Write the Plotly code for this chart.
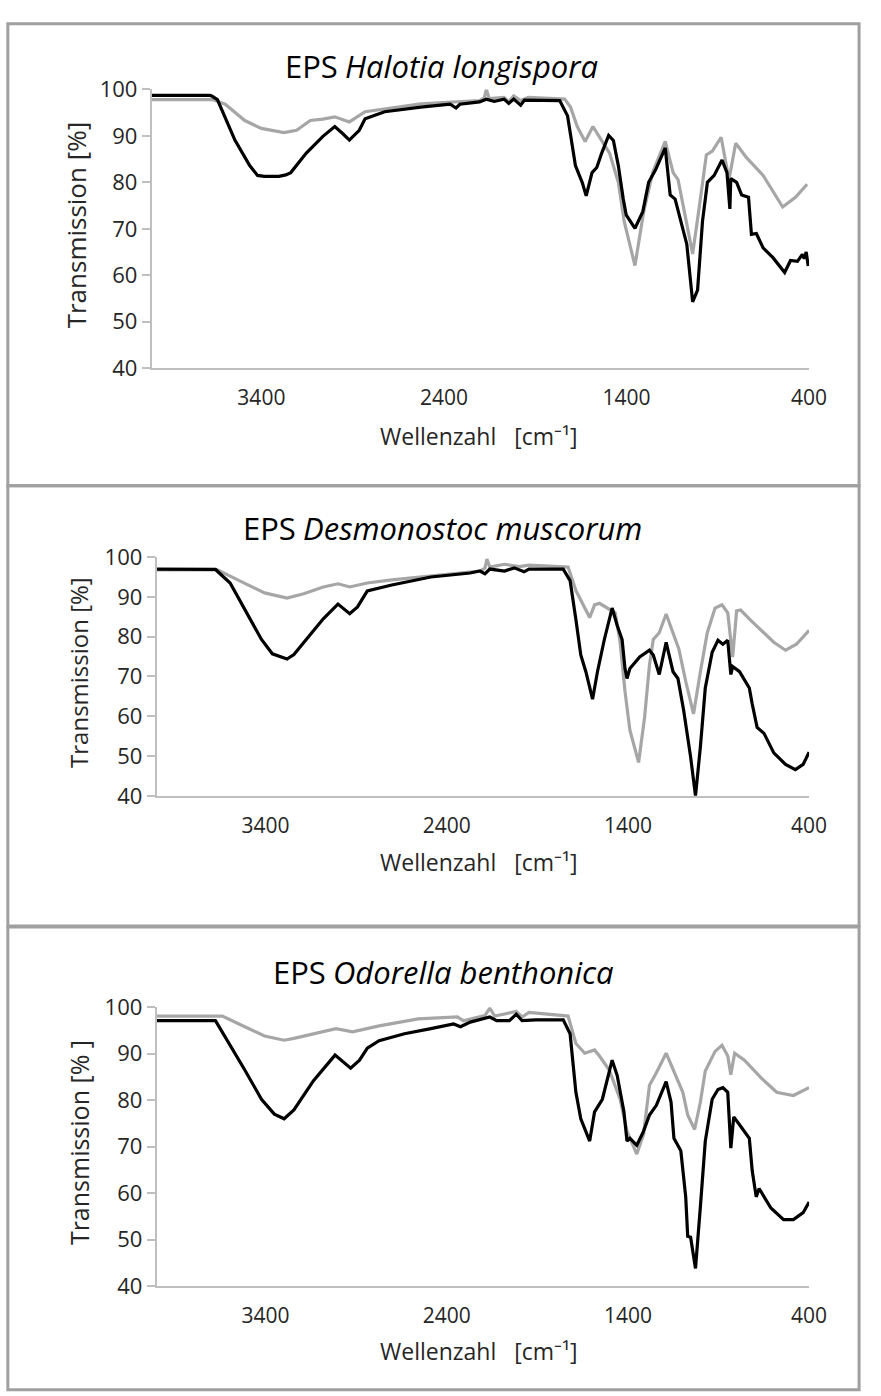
import plotly.graph_objects as go

W, H = 881, 1396

# ---------------- data (wavenumber cm-1, transmission %) ----------------
halotia_black_wn = [4000, 3679, 3668, 3641, 3545, 3464, 3421, 3384, 3304, 3266, 3239, 3154, 3063, 2998, 2955, 2918, 2864, 2832, 2725, 2527, 2366, 2334, 2313, 2205, 2168, 2125, 2071, 2045, 2018, 1980, 1959, 1884, 1766, 1723, 1680, 1643, 1621, 1589, 1563, 1536, 1498, 1472, 1445, 1418, 1402, 1354, 1311, 1279, 1241, 1188, 1161, 1134, 1097, 1070, 1038, 1011, 984, 957, 920, 877, 850, 834, 829, 797, 770, 732, 716, 689, 652, 598, 534, 502, 464, 437, 427, 416, 405]
halotia_black_t = [98.7, 98.7, 98.5, 97.8, 89.1, 83.6, 81.5, 81.3, 81.3, 81.6, 82.1, 86.3, 89.9, 92.0, 90.5, 89.1, 91.2, 93.7, 95.2, 96.2, 96.8, 96.0, 96.8, 97.3, 97.9, 97.4, 97.9, 97.0, 97.9, 96.6, 97.7, 97.7, 97.6, 94.3, 83.6, 80.0, 77.1, 82.1, 83.2, 86.3, 90.1, 89.0, 83.6, 76.4, 73.0, 70.1, 73.7, 80.0, 82.7, 87.4, 77.3, 76.4, 70.9, 66.7, 54.3, 56.8, 71.6, 80.0, 81.5, 84.8, 82.1, 74.3, 80.8, 80.0, 77.3, 76.8, 68.8, 69.0, 65.9, 63.8, 60.6, 63.2, 63.0, 64.5, 63.6, 65.0, 62.0]

halotia_gray_wn = [4000, 3668, 3598, 3491, 3400, 3277, 3207, 3132, 3063, 2998, 2918, 2832, 2527, 2313, 2205, 2179, 2168, 2152, 2071, 2045, 2018, 1980, 1938, 1739, 1707, 1670, 1627, 1584, 1536, 1493, 1445, 1413, 1354, 1306, 1257, 1188, 1145, 1118, 1080, 1038, 1000, 963, 930, 882, 839, 802, 743, 652, 545, 475, 411]
halotia_gray_t = [97.8, 97.8, 96.8, 93.3, 91.6, 90.7, 91.2, 93.3, 93.6, 94.1, 93.0, 95.2, 96.9, 97.3, 97.6, 98.2, 100.0, 98.0, 98.3, 97.3, 98.6, 97.6, 98.3, 97.9, 96.2, 92.0, 88.8, 92.0, 89.1, 86.3, 80.0, 71.6, 62.1, 73.7, 82.1, 88.8, 82.1, 80.6, 73.0, 64.6, 75.2, 85.9, 86.7, 89.7, 80.6, 88.4, 85.3, 81.5, 74.7, 76.8, 79.6]

desmo_black_wn = [4000, 3676, 3595, 3514, 3422, 3362, 3281, 3243, 3162, 3081, 3000, 2935, 2892, 2838, 2703, 2487, 2270, 2216, 2189, 2162, 2081, 2027, 1973, 1946, 1757, 1719, 1687, 1660, 1632, 1595, 1568, 1530, 1487, 1459, 1432, 1416, 1405, 1389, 1335, 1281, 1260, 1227, 1189, 1151, 1124, 1092, 1054, 1027, 1000, 973, 935, 903, 876, 849, 832, 822, 784, 730, 714, 687, 649, 595, 530, 476, 433, 400]
desmo_black_t = [97.0, 96.9, 93.5, 86.7, 79.3, 75.7, 74.4, 75.5, 80.0, 84.5, 88.2, 85.8, 87.5, 91.5, 93.0, 95.0, 96.0, 96.5, 95.8, 97.0, 96.5, 97.3, 96.3, 97.0, 97.0, 94.1, 84.3, 75.4, 71.2, 64.3, 71.2, 79.3, 87.2, 82.8, 79.3, 72.0, 69.5, 72.0, 74.9, 76.6, 75.4, 70.5, 78.6, 71.2, 69.5, 61.4, 49.8, 40.0, 52.3, 67.1, 76.1, 79.1, 78.1, 79.1, 70.5, 72.5, 71.2, 67.1, 63.1, 57.2, 55.7, 50.8, 47.9, 46.6, 47.9, 51.0]

desmo_gray_wn = [4000, 3665, 3514, 3405, 3281, 3189, 3081, 3000, 2935, 2838, 2703, 2432, 2216, 2189, 2178, 2162, 2081, 2000, 1946, 1730, 1687, 1611, 1584, 1557, 1514, 1470, 1443, 1416, 1389, 1341, 1308, 1281, 1260, 1227, 1189, 1151, 1119, 1081, 1038, 1000, 962, 919, 881, 849, 822, 800, 778, 719, 665, 595, 530, 470, 400]
desmo_gray_t = [96.8, 96.8, 93.4, 91.0, 89.7, 90.8, 92.5, 93.3, 92.5, 93.5, 94.3, 95.5, 96.5, 97.2, 99.5, 97.5, 98.2, 97.6, 98.0, 97.5, 91.6, 84.8, 88.0, 88.4, 87.2, 86.0, 78.6, 66.3, 56.5, 48.4, 59.7, 72.9, 79.3, 81.0, 85.7, 81.0, 76.9, 68.8, 60.6, 71.2, 81.0, 87.2, 88.0, 86.0, 74.9, 86.5, 86.7, 84.0, 81.6, 78.6, 76.6, 78.1, 81.6]

odor_black_wn = [4000, 3676, 3514, 3422, 3351, 3297, 3243, 3135, 3016, 2930, 2881, 2838, 2773, 2633, 2487, 2362, 2324, 2270, 2162, 2124, 2054, 2016, 1984, 1908, 1757, 1719, 1687, 1660, 1611, 1584, 1541, 1514, 1487, 1459, 1422, 1405, 1389, 1351, 1314, 1281, 1243, 1189, 1162, 1146, 1108, 1081, 1070, 1054, 1027, 1000, 973, 935, 903, 876, 849, 832, 816, 784, 730, 714, 692, 676, 649, 611, 541, 487, 433, 400]
odor_black_t = [97.1, 97.1, 86.5, 80.2, 77.0, 76.0, 77.9, 84.2, 89.7, 86.9, 88.6, 91.2, 92.8, 94.3, 95.4, 96.4, 95.8, 96.8, 97.9, 97.1, 97.1, 98.5, 97.1, 97.3, 97.3, 94.3, 81.7, 76.0, 71.2, 77.5, 80.2, 84.4, 88.6, 85.3, 77.5, 71.2, 71.8, 70.3, 73.3, 76.8, 78.9, 84.0, 79.6, 71.8, 69.1, 59.2, 50.7, 50.5, 43.8, 57.1, 71.2, 80.2, 82.3, 82.7, 81.7, 69.7, 76.4, 74.7, 71.8, 64.8, 59.2, 61.0, 59.2, 56.8, 54.3, 54.3, 55.8, 58.1]

odor_gray_wn = [4000, 3638, 3514, 3405, 3297, 3243, 3011, 2919, 2773, 2557, 2341, 2308, 2189, 2162, 2135, 2016, 1984, 1946, 1730, 1687, 1638, 1584, 1557, 1503, 1443, 1405, 1351, 1314, 1281, 1243, 1189, 1151, 1097, 1070, 1032, 1000, 973, 919, 881, 849, 832, 811, 757, 665, 579, 487, 400]
odor_gray_t = [98.1, 98.1, 95.8, 93.8, 92.9, 93.3, 95.4, 94.7, 96.0, 97.5, 97.9, 97.1, 98.2, 99.8, 98.1, 99.1, 97.9, 98.9, 98.1, 92.2, 90.1, 90.8, 89.5, 86.5, 80.2, 73.3, 68.4, 72.6, 83.2, 85.9, 90.1, 86.5, 81.7, 76.8, 73.7, 79.6, 86.3, 90.5, 91.8, 89.5, 85.5, 90.1, 88.6, 84.8, 81.7, 81.0, 82.7]

title_prefix = "EPS"
species = ["Halotia longispora", "Desmonostoc muscorum", "Odorella benthonica"]
y_titles = ["Transmission [%]", "Transmission [%]", "Transmission [% ]"]
x_title = "Wellenzahl   [cm\u207b\u00b9]"
x_ticks = [3400, 2400, 1400, 400]
y_ticks = [40, 50, 60, 70, 80, 90, 100]

series = [
    (halotia_gray_wn, halotia_gray_t, halotia_black_wn, halotia_black_t),
    (desmo_gray_wn, desmo_gray_t, desmo_black_wn, desmo_black_t),
    (odor_gray_wn, odor_gray_t, odor_black_wn, odor_black_t),
]

# ---------------- layout geometry (pixels) ----------------
panels = [
    dict(x0=155, x1=826, ytop=75, ybot=360, title_y=51, split=347, xt_y=429, yt_x=77, yt_size=26),
    dict(x0=160, x1=826, ytop=553, ybot=797, title_y=523, split=304, xt_y=865, yt_x=80, yt_size=24),
    dict(x0=160, x1=826, ytop=1013, ybot=1298, title_y=977, split=335, xt_y=1364, yt_x=80, yt_size=25),
]

FONT = "Open Sans"
TXT = "#262626"
AX = "#BFBFBF"
GRAY = "#A6A6A6"

fig = go.Figure()
annotations = []
for i, (p, s) in enumerate(zip(panels, series)):
    n = "" if i == 0 else str(i + 1)
    gw, gt, bw, bt = s
    fig.add_trace(go.Scatter(x=gw, y=gt, mode="lines", line=dict(color=GRAY, width=3.2),
                             xaxis="x" + n, yaxis="y" + n, showlegend=False))
    fig.add_trace(go.Scatter(x=bw, y=bt, mode="lines", line=dict(color="#000000", width=3.2),
                             xaxis="x" + n, yaxis="y" + n, showlegend=False))
    fig.layout["xaxis" + n] = dict(
        domain=[p["x0"] / W, p["x1"] / W], range=[4000, 400], anchor="y" + n,
        tickvals=x_ticks, ticks="", showline=True, linecolor=AX, linewidth=2,
        showgrid=False, zeroline=False, ticklabelstandoff=10,
        tickfont=dict(family=FONT, size=21, color=TXT))
    fig.layout["yaxis" + n] = dict(
        domain=[1 - p["ybot"] / H, 1 - p["ytop"] / H], range=[40, 100], anchor="x" + n,
        tickvals=y_ticks, ticks="outside", ticklen=8, tickcolor=AX, tickwidth=2,
        showline=True, linecolor=AX, linewidth=2, showgrid=False, zeroline=False,
        tickfont=dict(family=FONT, size=22, color=TXT))
    ty = 1 - p["title_y"] / H
    annotations.append(dict(text=title_prefix, x=p["split"] / W, y=ty,
                            xref="paper", yref="paper", showarrow=False, xanchor="right", yanchor="middle",
                            font=dict(family=FONT, size=31, color="#000000")))
    annotations.append(dict(text=species[i], x=(p["split"] + 3) / W, y=ty,
                            xref="paper", yref="paper", showarrow=False, xanchor="left", yanchor="middle",
                            font=dict(family=FONT, size=31, color="#000000", style="italic")))
    annotations.append(dict(text=x_title, x=489 / W, y=1 - p["xt_y"] / H,
                            xref="paper", yref="paper", showarrow=False, xanchor="center", yanchor="middle",
                            font=dict(family=FONT, size=23, color=TXT)))
    annotations.append(dict(text=y_titles[i], x=p["yt_x"] / W, y=1 - (p["ytop"] + p["ybot"] - 8) / 2 / H,
                            xref="paper", yref="paper", showarrow=False, textangle=-90,
                            xanchor="center", yanchor="middle",
                            font=dict(family=FONT, size=p["yt_size"], color=TXT)))

# panel frames
BC = "#A0A0A0"
shapes = []
frame = [(8, 8, 877, 480), (8, 480, 877, 930), (8, 931, 877, 1404)]
for (x0, y0, x1, y1) in frame:
    shapes.append(dict(type="rect", xref="paper", yref="paper", x0=x0 / W, x1=x1 / W,
                       y0=1 - y1 / H, y1=1 - y0 / H, line=dict(color=BC, width=3)))

fig.update_layout(width=W, height=H, margin=dict(l=0, r=0, t=0, b=0),
                  paper_bgcolor="white", plot_bgcolor="white",
                  annotations=annotations, shapes=shapes)

fig.write_html("out.html")
